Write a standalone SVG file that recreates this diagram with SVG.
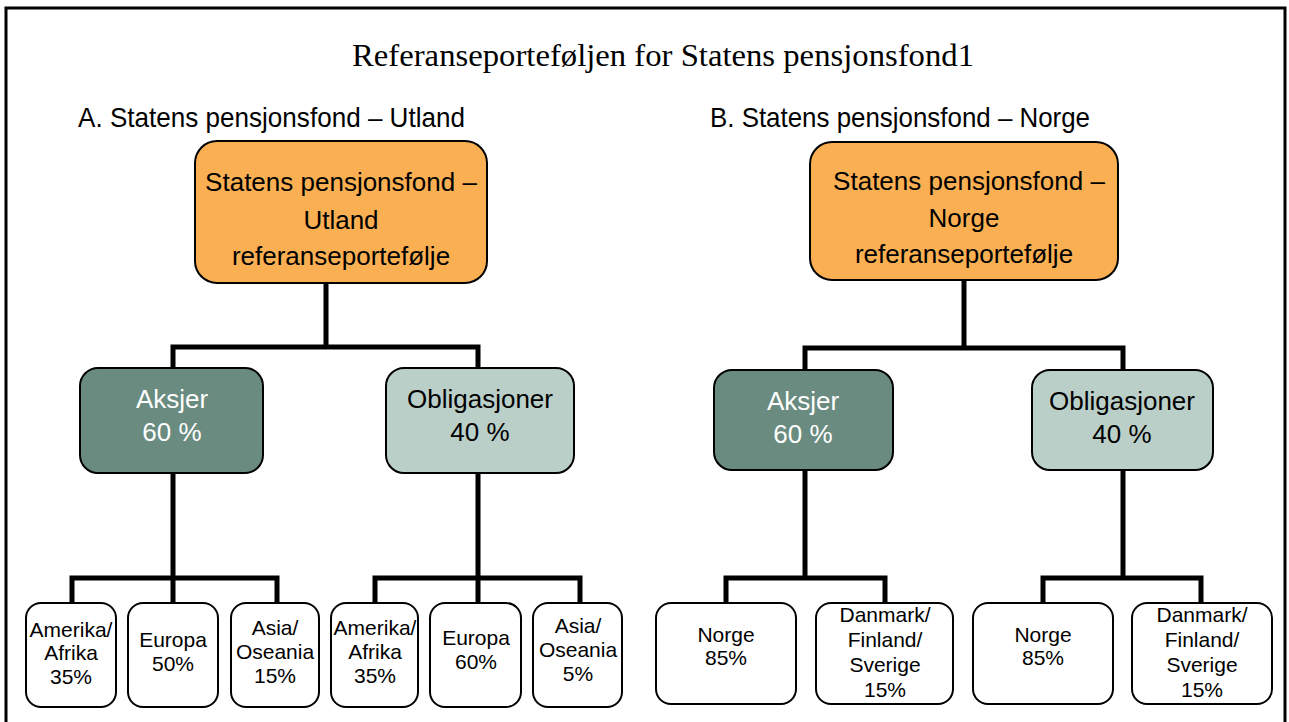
<svg xmlns="http://www.w3.org/2000/svg" width="1289" height="722" viewBox="0 0 1289 722">
  <style>
    .frame { fill: none; stroke: #000; stroke-width: 3; }
    .wire { fill: none; stroke: #000; stroke-width: 5; stroke-linejoin: miter; stroke-linecap: square; }
    .box { stroke: #000; stroke-width: 2; }
    .root { fill: #FAB052; }
    .eq { fill: #698B80; }
    .bond { fill: #BACFC8; }
    .leaf { fill: #FFFFFF; }
    .title { font-family: "Liberation Serif", "Times New Roman", serif; font-size: 32px; fill: #000; }
    .sub { font-family: "Liberation Sans", Arial, sans-serif; font-size: 28px; fill: #000; }
    .t26 { font-family: "Liberation Sans", Arial, sans-serif; font-size: 26px; fill: #000; text-anchor: middle; }
    .t26w { font-family: "Liberation Sans", Arial, sans-serif; font-size: 26px; fill: #FFFFFF; text-anchor: middle; }
    .t21 { font-family: "Liberation Sans", Arial, sans-serif; font-size: 21px; fill: #000; text-anchor: middle; }
  </style>

  <rect x="0" y="0" width="1289" height="722" fill="#FFFFFF"/>
  <!-- outer frame (bottom edge runs off the page) -->
  <path class="frame" d="M6,740 V8 H1285 V740"/>

  <text class="title" x="352" y="66" textLength="622" lengthAdjust="spacingAndGlyphs">Referanseporteføljen for Statens pensjonsfond1</text>
  <text class="sub" x="78" y="127" textLength="387" lengthAdjust="spacingAndGlyphs">A. Statens pensjonsfond – Utland</text>
  <text class="sub" x="710" y="127" textLength="380" lengthAdjust="spacingAndGlyphs">B. Statens pensjonsfond – Norge</text>

  <!-- connectors -->
  <g id="connectors">
    <!-- A: root to asset classes -->
    <path class="wire" d="M326,283 V347 M173,368 V347 H478 V368"/>
    <!-- A: equities to regions -->
    <path class="wire" d="M173,473 V578 M72,603 V578 H277 V603 M173,578 V603"/>
    <!-- A: bonds to regions -->
    <path class="wire" d="M478,473 V578 M375,603 V578 H580 V603 M478,578 V603"/>
    <!-- B: root to asset classes -->
    <path class="wire" d="M964,280 V348 M805,370 V348 H1123 V370"/>
    <!-- B: equities to regions -->
    <path class="wire" d="M805,470 V578 M726,603 V578 H885 V603"/>
    <!-- B: bonds to regions -->
    <path class="wire" d="M1123,470 V578 M1043,603 V578 H1201 V603"/>
  </g>

  <!-- A. Utland -->
  <g id="a-root">
    <rect class="box root" x="195" y="141" width="292" height="142" rx="22"/>
    <text class="t26" x="341" y="191">Statens pensjonsfond –</text>
    <text class="t26" x="341" y="229">Utland</text>
    <text class="t26" x="341" y="265">referanseportefølje</text>
  </g>
  <g id="a-aksjer">
    <rect class="box eq" x="80" y="368" width="183" height="105" rx="18"/>
    <text class="t26w" x="172" y="408">Aksjer</text>
    <text class="t26w" x="172" y="441">60 %</text>
  </g>
  <g id="a-obligasjoner">
    <rect class="box bond" x="386" y="368" width="188" height="105" rx="18"/>
    <text class="t26" x="480" y="408">Obligasjoner</text>
    <text class="t26" x="480" y="441">40 %</text>
  </g>

  <g id="a-aksjer-amerika">
    <rect class="box leaf" x="26" y="603" width="90" height="104" rx="15"/>
    <text class="t21" x="71" y="637">Amerika/</text>
    <text class="t21" x="71" y="660">Afrika</text>
    <text class="t21" x="71" y="684">35%</text>
  </g>
  <g id="a-aksjer-europa">
    <rect class="box leaf" x="128" y="603" width="90" height="104" rx="15"/>
    <text class="t21" x="173" y="647">Europa</text>
    <text class="t21" x="173" y="671">50%</text>
  </g>
  <g id="a-aksjer-asia">
    <rect class="box leaf" x="231" y="603" width="88" height="104" rx="15"/>
    <text class="t21" x="275" y="635">Asia/</text>
    <text class="t21" x="275" y="659">Oseania</text>
    <text class="t21" x="275" y="683">15%</text>
  </g>

  <g id="a-obl-amerika">
    <rect class="box leaf" x="331" y="603" width="87" height="104" rx="15"/>
    <text class="t21" x="375" y="635">Amerika/</text>
    <text class="t21" x="375" y="659">Afrika</text>
    <text class="t21" x="375" y="683">35%</text>
  </g>
  <g id="a-obl-europa">
    <rect class="box leaf" x="430" y="603" width="91" height="104" rx="15"/>
    <text class="t21" x="476" y="645">Europa</text>
    <text class="t21" x="476" y="669">60%</text>
  </g>
  <g id="a-obl-asia">
    <rect class="box leaf" x="533" y="603" width="89" height="104" rx="15"/>
    <text class="t21" x="578" y="633">Asia/</text>
    <text class="t21" x="578" y="657">Oseania</text>
    <text class="t21" x="578" y="681">5%</text>
  </g>

  <!-- B. Norge -->
  <g id="b-root">
    <rect class="box root" x="810" y="142" width="308" height="138" rx="22"/>
    <text class="t26" x="969" y="190">Statens pensjonsfond –</text>
    <text class="t26" x="964" y="227">Norge</text>
    <text class="t26" x="964" y="263">referanseportefølje</text>
  </g>
  <g id="b-aksjer">
    <rect class="box eq" x="714" y="370" width="179" height="100" rx="18"/>
    <text class="t26w" x="803" y="410">Aksjer</text>
    <text class="t26w" x="803" y="443">60 %</text>
  </g>
  <g id="b-obligasjoner">
    <rect class="box bond" x="1032" y="370" width="181" height="100" rx="18"/>
    <text class="t26" x="1122" y="410">Obligasjoner</text>
    <text class="t26" x="1122" y="443">40 %</text>
  </g>

  <g id="b-aksjer-norge">
    <rect class="box leaf" x="656" y="603" width="140" height="101" rx="15"/>
    <text class="t21" x="726" y="642">Norge</text>
    <text class="t21" x="726" y="665">85%</text>
  </g>
  <g id="b-aksjer-norden">
    <rect class="box leaf" x="816" y="603" width="137" height="101" rx="15"/>
    <text class="t21" x="885" y="622">Danmark/</text>
    <text class="t21" x="885" y="647">Finland/</text>
    <text class="t21" x="885" y="672">Sverige</text>
    <text class="t21" x="885" y="697">15%</text>
  </g>
  <g id="b-obl-norge">
    <rect class="box leaf" x="973" y="603" width="140" height="101" rx="15"/>
    <text class="t21" x="1043" y="642">Norge</text>
    <text class="t21" x="1043" y="665">85%</text>
  </g>
  <g id="b-obl-norden">
    <rect class="box leaf" x="1132" y="603" width="140" height="101" rx="15"/>
    <text class="t21" x="1202" y="622">Danmark/</text>
    <text class="t21" x="1202" y="647">Finland/</text>
    <text class="t21" x="1202" y="672">Sverige</text>
    <text class="t21" x="1202" y="697">15%</text>
  </g>
</svg>
